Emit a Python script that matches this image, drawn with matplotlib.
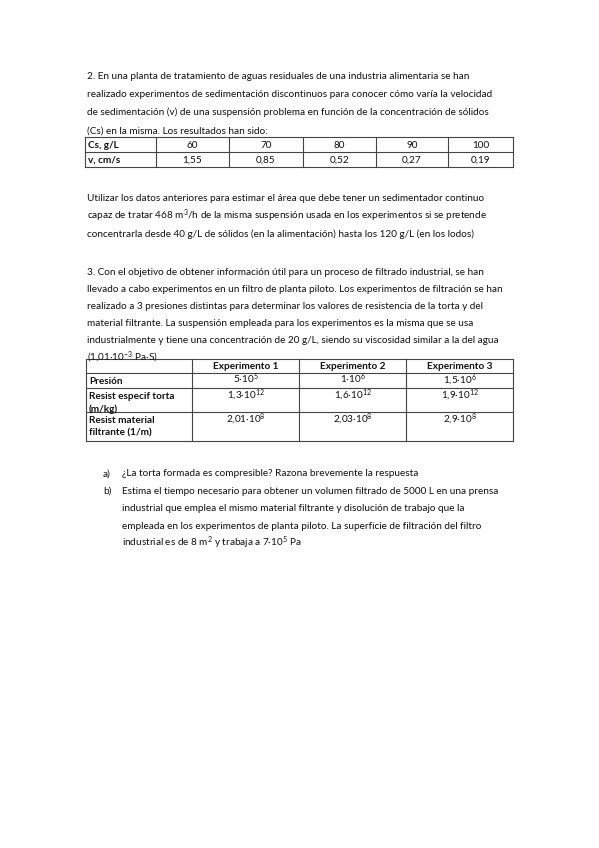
import matplotlib
matplotlib.use("Agg")
import matplotlib.pyplot as plt
from matplotlib.lines import Line2D

plt.rcParams['font.family'] = ['Lato', 'DejaVu Sans']
plt.rcParams['mathtext.fontset'] = 'custom'
plt.rcParams['mathtext.rm'] = 'Lato'
plt.rcParams['mathtext.it'] = 'Lato:italic'
plt.rcParams['mathtext.bf'] = 'Lato:bold'

W, H = 599, 848
FS = 7.2

# Data
cs_values = ["60", "70", "80", "90", "100"]
v_values = ["1,55", "0,85", "0,52", "0,27", "0,19"]
experiments = ["Experimento 1", "Experimento 2", "Experimento 3"]
row_labels = [["Presión"], ["Resist especif torta", "(m/kg)"], ["Resist material", "filtrante (1/m)"]]
presion = ["5·10$^{5}$", "1·10$^{6}$", "1,5·10$^{6}$"]
resist_torta = ["1,3·10$^{12}$", "1,6·10$^{12}$", "1,9·10$^{12}$"]
resist_material = ["2,01·10$^{8}$", "2,03·10$^{8}$", "2,9·10$^{8}$"]

fig = plt.figure(figsize=(W/100, H/100), dpi=100)
fig.patch.set_facecolor('white')

def T(x, y, s, ha='left', bold=False, fs=FS):
    # y is the visual centre of lowercase text; place on baseline
    fig.text(x/W, 1 - (y + 3.2)/H, s, ha=ha, va='baseline', fontsize=fs,
             fontweight='bold' if bold else 'normal', color='#111111')

def L(x0, y0, x1, y1, lw=0.8):
    fig.add_artist(Line2D([x0/W, x1/W], [1-y0/H, 1-y1/H], color='#444444', lw=lw))

p1 = ["2. En una planta de tratamiento de aguas residuales de una industria alimentaria se han",
      "realizado experimentos de sedimentación discontinuos para conocer cómo varía la velocidad",
      "de sedimentación (v) de una suspensión problema en función de la concentración de sólidos",
      "(Cs) en la misma. Los resultados han sido:"]
for i, s in enumerate(p1):
    T(87, 76 + 18*i, s)

# Table 1
xs = [85, 156, 229, 303, 376, 448, 513]
ys = [137, 152, 167]
for y in ys:
    L(xs[0], y, xs[-1], y)
for x in xs:
    L(x, ys[0], x, ys[-1])
T(88, 144.5, "Cs, g/L", bold=True)
T(88, 159.5, "v, cm/s", bold=True)
for j in range(5):
    cx = (xs[j+1] + xs[j+2]) / 2
    T(cx, 144.5, cs_values[j], ha='center')
    T(cx, 159.5, v_values[j], ha='center')

p2 = ["Utilizar los datos anteriores para estimar el área que debe tener un sedimentador continuo",
      "capaz de tratar 468 m$^{3}$/h de la misma suspensión usada en los experimentos si se pretende",
      "concentrarla desde 40 g/L de sólidos (en la alimentación) hasta los 120 g/L (en los lodos)"]
for i, s in enumerate(p2):
    T(87, 198 + 18*i, s)

p3 = ["3. Con el objetivo de obtener información útil para un proceso de filtrado industrial, se han",
      "llevado a cabo experimentos en un filtro de planta piloto. Los experimentos de filtración se han",
      "realizado a 3 presiones distintas para determinar los valores de resistencia de la torta y del",
      "material filtrante. La suspensión empleada para los experimentos es la misma que se usa",
      "industrialmente y tiene una concentración de 20 g/L, siendo su viscosidad similar a la del agua",
      "(1,01·10$^{-3}$ Pa·S)"]
for i, s in enumerate(p3):
    T(87, 272 + 17*i, s)

# Table 2
xs2 = [86, 192, 299, 406, 513]
ys2 = [359, 373, 388, 412, 441]
for y in ys2:
    L(xs2[0], y, xs2[-1], y)
for x in xs2:
    L(x, ys2[0], x, ys2[-1])
for j, e in enumerate(experiments):
    T((xs2[j+1] + xs2[j+2]) / 2, 366, e, ha='center', bold=True)
row_tops = [373, 388, 412]
vals = [presion, resist_torta, resist_material]
for r in range(3):
    for k, s in enumerate(row_labels[r]):
        T(89, row_tops[r] + 7.5 + 13*k, s, bold=True)
    for j in range(3):
        T((xs2[j+1] + xs2[j+2]) / 2, row_tops[r] + 7, vals[r][j], ha='center')

items = [("a)", ["¿La torta formada es compresible? Razona brevemente la respuesta"]),
         ("b)", ["Estima el tiempo necesario para obtener un volumen filtrado de 5000 L en una prensa",
                 "industrial que emplea el mismo material filtrante y disolución de trabajo que la",
                 "empleada en los experimentos de planta piloto. La superficie de filtración del filtro",
                 "industrial es de 8 m$^{2}$ y trabaja a 7·10$^{5}$ Pa"])]
y = 473
for lab, lines in items:
    T(103, y, lab)
    for s in lines:
        T(122, y, s)
        y += 17.5

fig.savefig("out.png", dpi=100, facecolor='white')
